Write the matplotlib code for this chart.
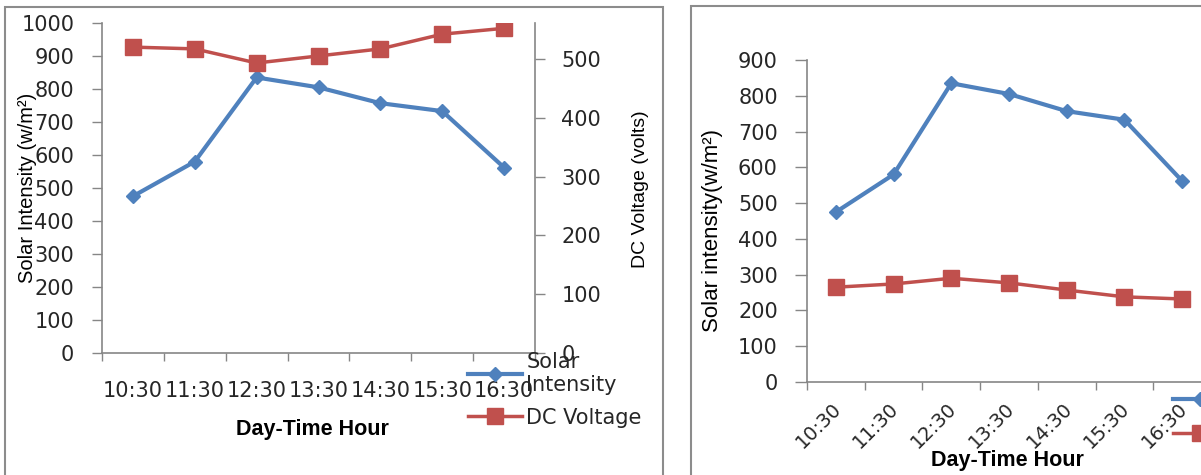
import matplotlib.pyplot as plt
from matplotlib.patches import Rectangle
from matplotlib.transforms import ScaledTranslation

# -------------------------------
# data
hours = ["10:30", "11:30", "12:30", "13:30", "14:30", "15:30", "16:30"]
solar_intensity = [475, 580, 835, 805, 757, 733, 562]
dc_voltage = [520, 517, 493, 505, 517, 542, 552]
ac_voltage = [265, 274, 290, 277, 257, 238, 232]

blue = "#4F81BD"
red = "#C0504D"
grey = "#868686"
txt = "#262626"
W, H = 1201, 475

plt.rcParams["font.family"] = ["DejaVu Sans"]
fig = plt.figure(figsize=(W / 100, H / 100), dpi=100)


def px_axes(x0, y0, x1, y1):
    # pixel box (top-left origin) -> figure fraction
    return [x0 / W, (H - y1) / H, (x1 - x0) / W, (y1 - y0) / H]


def style_cat_axis(ax, n):
    ax.set_xlim(-0.5, n - 0.5)
    ax.set_xticks(range(n))
    ax.set_xticks([i - 0.5 for i in range(n + 1)], minor=True)
    ax.tick_params(axis="x", which="major", length=0)
    ax.tick_params(axis="x", which="minor", length=6, width=1, color=grey, direction="out")
    for s in ["top", "right"]:
        ax.spines[s].set_visible(False)
    for s in ["left", "bottom"]:
        ax.spines[s].set_color(grey)
        ax.spines[s].set_linewidth(1.2)


x = list(range(len(hours)))
label_font = ["Liberation Sans", "DejaVu Sans"]

# -------------------------------
# left panel: solar intensity + DC voltage (twin axis)
ax = fig.add_axes(px_axes(102, 23, 535, 353))
style_cat_axis(ax, len(hours))
l1, = ax.plot(x, solar_intensity, color=blue, lw=3, marker="D", ms=7.5, label="Solar\nIntensity")
ax.set_ylim(0, 1000)
ax.set_yticks(range(0, 1001, 100))
ax.set_xticklabels(hours)
ax.tick_params(axis="x", labelsize=15, pad=20, labelcolor=txt)
ax.tick_params(axis="y", labelsize=15, length=7, width=1, color=grey, pad=13, labelcolor=txt)
ax.set_ylabel("Solar Intensity (w/m²)", family=label_font, fontsize=14.5, va="center", ha="center")
ax.yaxis.set_label_coords(-0.173, 0.5)
ax.set_xlabel("Day-Time Hour", family=label_font, fontsize=15.5, fontweight="bold", va="center")
ax.xaxis.set_label_coords(0.487, -0.233)

ax2 = ax.twinx()
l2, = ax2.plot(x, dc_voltage, color=red, lw=2.5, marker="s", ms=12, label="DC Voltage")
ax2.set_ylim(0, 561)
ax2.set_yticks(range(0, 501, 100))
for s in ["top", "left", "bottom"]:
    ax2.spines[s].set_visible(False)
ax2.spines["right"].set_color(grey)
ax2.spines["right"].set_linewidth(1.2)
ax2.tick_params(axis="y", labelsize=15, length=7, width=1, color=grey, pad=12, labelcolor=txt)
ax2.set_ylabel("DC Voltage (volts)", family=label_font, fontsize=14, va="center", ha="center")
ax2.yaxis.set_label_coords(1.2425, 0.497)

fig.legend(handles=[l1, l2], loc="upper left", bbox_to_anchor=(468 / W, 1 - 352 / H),
           frameon=False, fontsize=15, borderpad=0, borderaxespad=0, handlelength=2.6,
           handletextpad=0.2, labelspacing=0.6, labelcolor=txt)

# -------------------------------
# right panel: solar intensity + AC voltage (cut off at the right edge)
bx = fig.add_axes(px_axes(807, 60, 1211, 382))
style_cat_axis(bx, len(hours))
m1, = bx.plot(x, solar_intensity, color=blue, lw=3, marker="D", ms=7.5, label="Solar Intensity")
m2, = bx.plot(x, ac_voltage, color=red, lw=2.5, marker="s", ms=12, label="AC Voltage")
bx.set_ylim(0, 900)
bx.set_yticks(range(0, 901, 100))
bx.set_xticklabels(hours, rotation=45, ha="right", va="top")
bx.tick_params(axis="x", labelsize=14, pad=12, labelcolor=txt)
bx.tick_params(axis="y", labelsize=15, length=9, width=1, color=grey, pad=12, labelcolor=txt)
shift = ScaledTranslation(9 / 100, 0, fig.dpi_scale_trans)
for lab in bx.get_xticklabels():
    lab.set_transform(lab.get_transform() + shift)
bx.set_ylabel("Solar intensity(w/m²)", family=label_font, fontsize=16, va="center", ha="center")
bx.yaxis.set_label_coords(-0.233, 0.469)
bx.set_xlabel("Day-Time Hour", family=label_font, fontsize=15.5, fontweight="bold", va="center")
bx.xaxis.set_label_coords(0.495, -0.245)

fig.legend(handles=[m1, m2], loc="upper left", bbox_to_anchor=(1173 / W, 1 - 390 / H),
           frameon=False, fontsize=15, borderpad=0, borderaxespad=0, handlelength=2.6,
           handletextpad=0.2, labelspacing=0.7, labelcolor=txt)

# chart frames
fig.patches.append(Rectangle((5 / W, -0.1), 658 / W, 1.1 - 7 / H, transform=fig.transFigure,
                             fill=False, edgecolor="#8c8c8c", lw=1.5))
fig.patches.append(Rectangle((691 / W, -0.1), 0.5, 1.1 - 6 / H, transform=fig.transFigure,
                             fill=False, edgecolor="#8c8c8c", lw=1.5))

fig.savefig("out.png", dpi=100)
